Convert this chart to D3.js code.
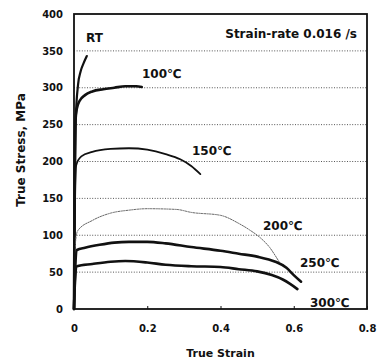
<!DOCTYPE html>
<html>
<head>
<meta charset="utf-8">
<script src="https://cdn.jsdelivr.net/npm/d3@7"></script>
<style>
  html, body { margin: 0; padding: 0; background: #fff; }
  svg text { font-family: "DejaVu Sans", sans-serif; font-weight: bold; fill: #111; }
</style>
</head>
<body>
<svg id="chart" width="377" height="362"></svg>
<script>
// True stress–strain curves at several test temperatures
const strainRT = [0, 0.002, 0.005, 0.011, 0.018, 0.026, 0.035];
const stressRT = [0, 150, 260, 304, 322, 333, 343];

const strain100 = [0, 0.002, 0.004, 0.008, 0.015, 0.03, 0.05, 0.08, 0.11, 0.14, 0.17, 0.185];
const stress100 = [0, 200, 255, 272, 282, 290, 295, 298, 300, 302, 302, 301];

const strain150 = [0, 0.003, 0.006, 0.02, 0.05, 0.1, 0.15, 0.2, 0.25, 0.29, 0.32, 0.345];
const stress150 = [0, 150, 195, 207, 213, 217, 218, 216, 210, 203, 194, 183];

const strain200 = [0, 0.004, 0.01, 0.05, 0.1, 0.15, 0.2, 0.28, 0.32, 0.4, 0.45, 0.48, 0.51, 0.535, 0.55, 0.56];
const stress200 = [0, 90, 106, 120, 130, 134, 136, 135, 131, 127, 116, 107, 96, 83, 72, 64];

const strain250 = [0, 0.003, 0.008, 0.03, 0.07, 0.11, 0.15, 0.2, 0.25, 0.32, 0.4, 0.45, 0.5, 0.55, 0.58, 0.6, 0.62];
const stress250 = [0, 50, 80, 83, 87, 90, 91, 91, 89, 84, 79, 75, 71, 64, 56, 46, 37];

const strain300 = [0, 0.003, 0.008, 0.05, 0.1, 0.14, 0.2, 0.25, 0.32, 0.4, 0.45, 0.5, 0.54, 0.57, 0.59, 0.61];
const stress300 = [0, 40, 58, 61, 64, 65, 63, 60, 58, 57, 54, 51, 46, 40, 34, 27];

const curveNames = ["RT", "100℃", "150℃", "200℃", "250℃", "300℃"];
const xTicks = [0, 0.2, 0.4, 0.6, 0.8];
const yTicks = [0, 50, 100, 150, 200, 250, 300, 350, 400];
const gridValues = [50, 100, 150, 200, 250, 300, 350];

const series = [
  { name: curveNames[0], x: strainRT, y: stressRT, width: 2.2, color: "#111", dash: null },
  { name: curveNames[1], x: strain100, y: stress100, width: 2.6, color: "#111", dash: null },
  { name: curveNames[2], x: strain150, y: stress150, width: 1.8, color: "#111", dash: null },
  { name: curveNames[3], x: strain200, y: stress200, width: 1, color: "#666", dash: "1.5,1.2" },
  { name: curveNames[4], x: strain250, y: stress250, width: 2.6, color: "#111", dash: null },
  { name: curveNames[5], x: strain300, y: stress300, width: 2.6, color: "#111", dash: null }
];

const svg = d3.select("#chart");
const plotLeft = 74, plotRight = 367, plotTop = 14, plotBottom = 309;

const x = d3.scaleLinear().domain([0, 0.8]).range([plotLeft, plotRight]);
const y = d3.scaleLinear().domain([0, 400]).range([plotBottom, plotTop]);

// dotted horizontal gridlines
svg.append("g").selectAll("line").data(gridValues).join("line")
  .attr("x1", plotLeft).attr("x2", plotRight)
  .attr("y1", d => y(d)).attr("y2", d => y(d))
  .attr("stroke", "#555").attr("stroke-width", 1)
  .attr("stroke-dasharray", "1,1.6");

// y axis labels
const yAxis = d3.axisLeft(y).tickValues(yTicks).tickSize(0).tickPadding(11).tickFormat(d3.format("d"));
const gy = svg.append("g").attr("transform", `translate(${plotLeft},0)`).call(yAxis);
gy.select(".domain").remove();
gy.selectAll("text").attr("font-size", 10).style("font-family", "DejaVu Sans").style("font-weight", "bold");

// x axis labels with small inward ticks
const xAxis = d3.axisBottom(x).tickValues(xTicks).tickSize(-3).tickPadding(16)
  .tickFormat(d => d === 0 ? "0" : d3.format(".1f")(d));
const gx = svg.append("g").attr("transform", `translate(0,${plotBottom})`).call(xAxis);
gx.select(".domain").remove();
gx.selectAll("line").attr("stroke", "#111").attr("stroke-width", 1);
gx.selectAll("text").attr("font-size", 10).style("font-family", "DejaVu Sans").style("font-weight", "bold");

// curves
const line = d3.line().curve(d3.curveMonotoneX)
  .x(d => x(d[0])).y(d => y(d[1]));
svg.append("g").selectAll("path").data(series).join("path")
  .attr("d", s => line(s.x.map((v, i) => [v, s.y[i]])))
  .attr("fill", "none")
  .attr("stroke", s => s.color)
  .attr("stroke-width", s => s.width)
  .attr("stroke-dasharray", s => s.dash)
  .attr("stroke-linejoin", "round")
  .attr("stroke-linecap", "round");

// frame
svg.append("rect")
  .attr("x", plotLeft).attr("y", plotTop)
  .attr("width", plotRight - plotLeft).attr("height", plotBottom - plotTop)
  .attr("fill", "none").attr("stroke", "#111").attr("stroke-width", 1.8);

// curve labels
const labelPos = [[86, 42], [142, 78], [192, 155], [263, 230], [300, 267], [310, 307]];
svg.append("g").selectAll("text").data(curveNames).join("text")
  .attr("x", (d, i) => labelPos[i][0]).attr("y", (d, i) => labelPos[i][1])
  .attr("font-size", 12)
  .text(d => d);

svg.append("text")
  .attr("x", 357).attr("y", 38).attr("text-anchor", "end")
  .attr("font-size", 12)
  .text("Strain-rate 0.016 /s");

// axis titles
svg.append("text")
  .attr("x", (plotLeft + plotRight) / 2).attr("y", 357).attr("text-anchor", "middle")
  .attr("font-size", 11)
  .text("True Strain");

svg.append("text")
  .attr("transform", "translate(25,150) rotate(-90)")
  .attr("text-anchor", "middle")
  .attr("font-size", 12)
  .text("True Stress, MPa");
</script>
</body>
</html>
